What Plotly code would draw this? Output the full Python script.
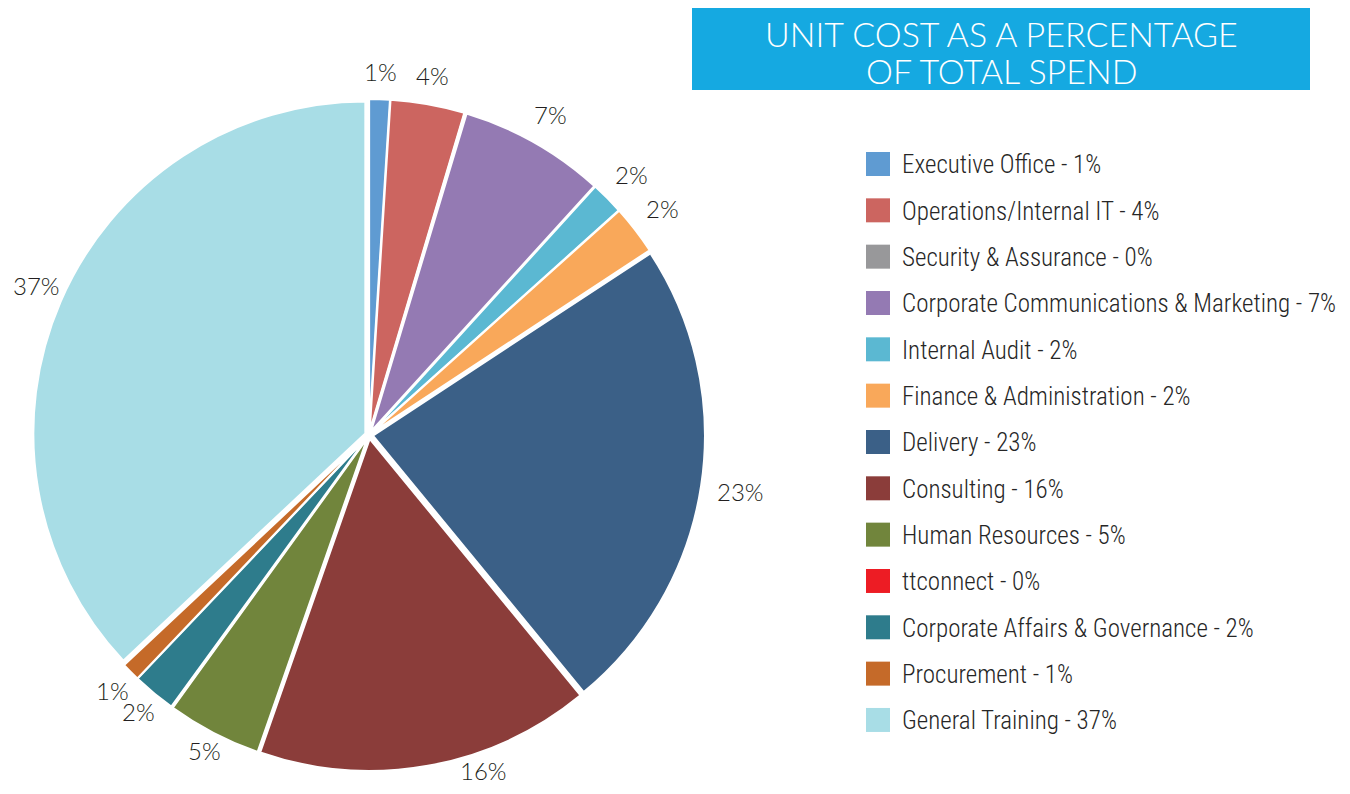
import math
import plotly.graph_objects as go

W, H = 1334, 778

categories = [
    "Executive Office", "Operations/Internal IT", "Security & Assurance",
    "Corporate Communications & Marketing", "Internal Audit",
    "Finance & Administration", "Delivery", "Consulting", "Human Resources",
    "ttconnect", "Corporate Affairs & Governance", "Procurement", "General Training",
]
values = [1.0, 3.6, 0.05, 7.1, 1.6, 2.4, 23.3, 16.3, 4.6, 0.05, 2.1, 0.9, 37.0]
colors = [
    "#5F9BD2", "#CC6560", "#98989A", "#947AB3", "#5BB8D2", "#F9A85A",
    "#3B6087", "#8B3D3A", "#71853C", "#ED1C24", "#2E7C8C", "#C56A29", "#A8DDE6",
]
title_lines = ["UNIT COST AS A PERCENTAGE", "OF TOTAL SPEND"]

total = sum(values)
pct = [round(v / total * 100) for v in values]
slice_text = [f"{p}%" if p > 0 else "" for p in pct]
legend_text = [f"{c} - {p}%" for c, p in zip(categories, pct)]

# pie geometry (pixels, figure coords)
CX, CY, R = 361, 427, 332
PULL = 0.012
dom = (R * (1 + PULL))

fig = go.Figure()
fig.add_trace(go.Pie(
    labels=categories,
    values=values,
    textinfo="none",
    sort=False,
    direction="clockwise",
    rotation=0,
    pull=PULL,
    marker=dict(colors=colors, line=dict(color="white", width=2)),
    showlegend=False,
    hoverinfo="label+percent",
    domain=dict(x=[(CX - dom) / W, (CX + dom) / W], y=[1 - (CY + dom) / H, 1 - (CY - dom) / H]),
))

# outside percentage labels, placed at each slice's mid-angle (kept inside the figure,
# and pushed sideways off the pie if the figure edge forces them inward)
LFS = 24
RP = R * (1 + PULL) + 3
cum = 0.0
for v, t in zip(values, slice_text):
    th = 2 * math.pi * (cum + v / 2) / total
    cum += v
    if not t:
        continue
    s, c = math.sin(th), math.cos(th)
    gap = 16 - 16 * max(0.0, -c) ** 2
    hw, hh = 0.31 * LFS * len(t), 0.45 * LFS
    d = R * (1 + PULL) + gap + hw * abs(s) + hh * abs(c)
    X, Y = CX + d * s, CY - d * c
    X = min(max(X, hw + 6), W - hw - 2)
    Yc = min(max(Y, hh + 6), H - 16)
    if Yc != Y:
        Y = Yc
        hwg, hhg = 0.29 * LFS * len(t), 0.38 * LFS
        sx = 1 if s >= 0 else -1
        ny = Y - hhg if Y > CY else Y + hhg
        nx = X - sx * hwg
        if (nx - CX) ** 2 + (ny - CY) ** 2 < RP ** 2:
            nx = CX + sx * math.sqrt(max(RP ** 2 - (ny - CY) ** 2, 0))
            X = nx + sx * hwg
    fig.add_annotation(xref="paper", yref="paper", x=X / W, y=1 - Y / H,
                       text=t, showarrow=False, xanchor="center", yanchor="middle",
                       font=dict(family="Lato, 'DejaVu Sans', sans-serif", size=LFS,
                                 color="#231F20", weight=300))

# Title box
fig.add_shape(type="rect", xref="paper", yref="paper",
              x0=684 / W, x1=1302 / W, y0=1 - 82 / H, y1=1.0,
              fillcolor="#15A9E1", line=dict(width=0), layer="below")
for line, yc in zip(title_lines, [25, 62]):
    fig.add_annotation(xref="paper", yref="paper", x=993 / W, y=1 - yc / H,
                       text=line, showarrow=False, xanchor="center", yanchor="middle",
                       font=dict(family="Lato, 'Open Sans', sans-serif", size=34,
                                 color="white", weight=300))

# Manual legend
row0, step = 156, 46.33
for i, (lt, col) in enumerate(zip(legend_text, colors)):
    yc = row0 + i * step
    fig.add_shape(type="rect", xref="paper", yref="paper",
                  x0=858 / W, x1=882 / W, y0=1 - (yc + 12) / H, y1=1 - (yc - 12) / H,
                  fillcolor=col, line=dict(width=0))
    fig.add_annotation(xref="paper", yref="paper", x=892 / W, y=1 - (yc + 1) / H,
                       text=lt, showarrow=False, xanchor="left", yanchor="middle",
                       font=dict(family="'Liberation Sans Narrow', 'Arial Narrow', 'Roboto Condensed', sans-serif",
                                 size=25, color="#262626", weight=300))

fig.update_layout(
    width=W, height=H,
    margin=dict(l=0, r=0, t=0, b=0),
    paper_bgcolor="white", plot_bgcolor="white",
)

fig.write_html("out.html")
